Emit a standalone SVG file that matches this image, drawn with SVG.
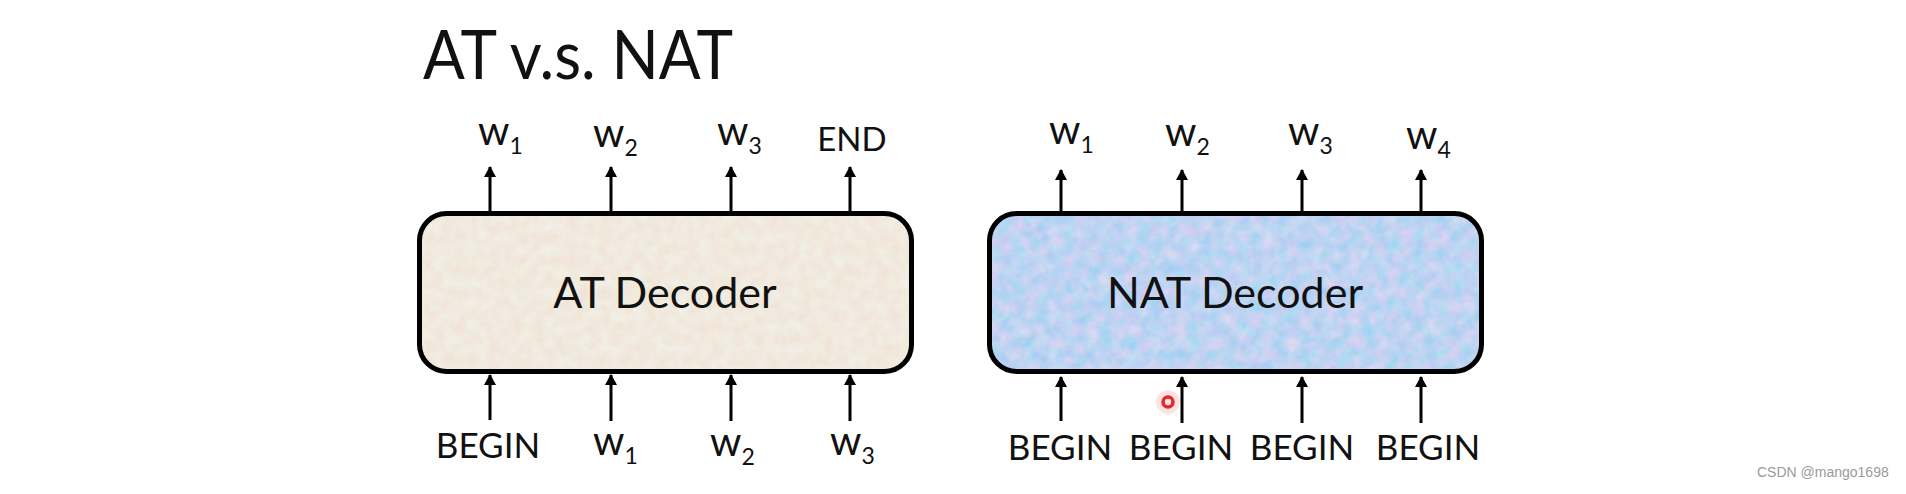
<svg xmlns="http://www.w3.org/2000/svg" width="1906" height="494" viewBox="0 0 1906 494">
<style>
  .t{font-family:Lato,"Open Sans","Liberation Sans",sans-serif;fill:#111}
  .title{font-size:68px}
  .dec{font-size:43px}
  .w{font-size:40px}
  .sub{font-size:23px}
  .lbl{font-size:35px}
  .end{font-size:33px}
  .box{fill:none;stroke:#000;stroke-width:5}
  .arr{stroke:#000;stroke-width:3;fill:none;marker-end:url(#ah)}
  .wm{font-family:"Liberation Sans",Arial,sans-serif;font-size:14px;fill:#9a9a9a}
</style>
<defs>
  <marker id="ah" viewBox="0 0 12 12" refX="10" refY="6" markerWidth="12" markerHeight="12" markerUnits="userSpaceOnUse" orient="auto">
    <path d="M0,0 L11,6 L0,12 z" fill="#000"/>
  </marker>
  <filter id="texBeige" x="0" y="0" width="1" height="1" color-interpolation-filters="sRGB">
    <feTurbulence type="fractalNoise" baseFrequency="0.09" numOctaves="3" seed="5" result="n"/>
    <feColorMatrix in="n" type="matrix" values="0 0 0 0 0.945  0.08 0 0 0 0.875  0.1 0 0 0 0.82  0 0 0 0 1" result="c"/>
    <feComposite in="c" in2="SourceGraphic" operator="in"/>
  </filter>
  <filter id="texBlue" x="0" y="0" width="1" height="1" color-interpolation-filters="sRGB">
    <feTurbulence type="fractalNoise" baseFrequency="0.08" numOctaves="3" seed="9" result="n"/>
    <feColorMatrix in="n" type="matrix" values="0.35 0 0 0 0.57  0 0.1 0 0 0.78  0 0 0 0 0.95  0 0 0 0 1" result="c"/>
    <feComposite in="c" in2="SourceGraphic" operator="in"/>
  </filter>
</defs>
<rect width="1906" height="494" fill="#fff"/>

<g id="title">
  <text class="t title" x="423" y="79" textLength="310" lengthAdjust="spacingAndGlyphs">AT v.s. NAT</text>
</g>

<g id="at-decoder">
  <rect x="419.5" y="213.5" width="492" height="158" rx="27" fill="#efe7dc" filter="url(#texBeige)"/>
  <rect class="box" x="419.5" y="213.5" width="492" height="158" rx="27"/>
  <text class="t dec" x="665" y="308" text-anchor="middle">AT Decoder</text>
</g>

<g id="nat-decoder">
  <rect x="989.5" y="213.5" width="492" height="158" rx="27" fill="#b9d0f0" filter="url(#texBlue)"/>
  <rect class="box" x="989.5" y="213.5" width="492" height="158" rx="27"/>
  <text class="t dec" x="1235" y="308" text-anchor="middle">NAT Decoder</text>
</g>

<g id="at-outputs">
  <text class="t w" x="478" y="145">w<tspan class="sub" dy="9">1</tspan></text>
  <text class="t w" x="593" y="147">w<tspan class="sub" dy="9">2</tspan></text>
  <text class="t w" x="717" y="145">w<tspan class="sub" dy="9">3</tspan></text>
  <text class="t end" x="852" y="151" text-anchor="middle">END</text>
</g>

<g id="at-inputs">
  <text class="t lbl" x="488" y="458" text-anchor="middle">BEGIN</text>
  <text class="t w" x="593" y="455">w<tspan class="sub" dy="9">1</tspan></text>
  <text class="t w" x="710" y="456">w<tspan class="sub" dy="9">2</tspan></text>
  <text class="t w" x="830" y="455">w<tspan class="sub" dy="9">3</tspan></text>
</g>

<g id="nat-outputs">
  <text class="t w" x="1049" y="144">w<tspan class="sub" dy="9">1</tspan></text>
  <text class="t w" x="1165" y="146">w<tspan class="sub" dy="9">2</tspan></text>
  <text class="t w" x="1288" y="145">w<tspan class="sub" dy="9">3</tspan></text>
  <text class="t w" x="1406" y="149">w<tspan class="sub" dy="9">4</tspan></text>
</g>

<g id="nat-inputs">
  <text class="t lbl" x="1060" y="460" text-anchor="middle">BEGIN</text>
  <text class="t lbl" x="1181" y="460" text-anchor="middle">BEGIN</text>
  <text class="t lbl" x="1302" y="460" text-anchor="middle">BEGIN</text>
  <text class="t lbl" x="1428" y="460" text-anchor="middle">BEGIN</text>
</g>

<g id="connectors">
  <line class="arr" x1="490" y1="211" x2="490" y2="167"/>
  <line class="arr" x1="611" y1="211" x2="611" y2="167"/>
  <line class="arr" x1="731" y1="211" x2="731" y2="167"/>
  <line class="arr" x1="850" y1="211" x2="850" y2="167"/>
  <line class="arr" x1="490" y1="420" x2="490" y2="375"/>
  <line class="arr" x1="611" y1="421" x2="611" y2="375"/>
  <line class="arr" x1="731" y1="421" x2="731" y2="375"/>
  <line class="arr" x1="850" y1="421" x2="850" y2="375"/>
  <line class="arr" x1="1061" y1="211" x2="1061" y2="170"/>
  <line class="arr" x1="1182" y1="211" x2="1182" y2="170"/>
  <line class="arr" x1="1302" y1="211" x2="1302" y2="170"/>
  <line class="arr" x1="1421" y1="211" x2="1421" y2="170"/>
  <line class="arr" x1="1061" y1="421" x2="1061" y2="377"/>
  <line class="arr" x1="1182" y1="423" x2="1182" y2="377"/>
  <line class="arr" x1="1302" y1="423" x2="1302" y2="377"/>
  <line class="arr" x1="1421" y1="423" x2="1421" y2="377"/>
</g>

<g id="cursor">
  <circle cx="1168" cy="402" r="12" fill="#ffb0b0" opacity="0.35"/>
  <circle cx="1168" cy="402" r="5" fill="none" stroke="#e8262b" stroke-width="3.5"/>
</g>

<text class="wm" x="1757" y="477">CSDN @mango1698</text>
</svg>
